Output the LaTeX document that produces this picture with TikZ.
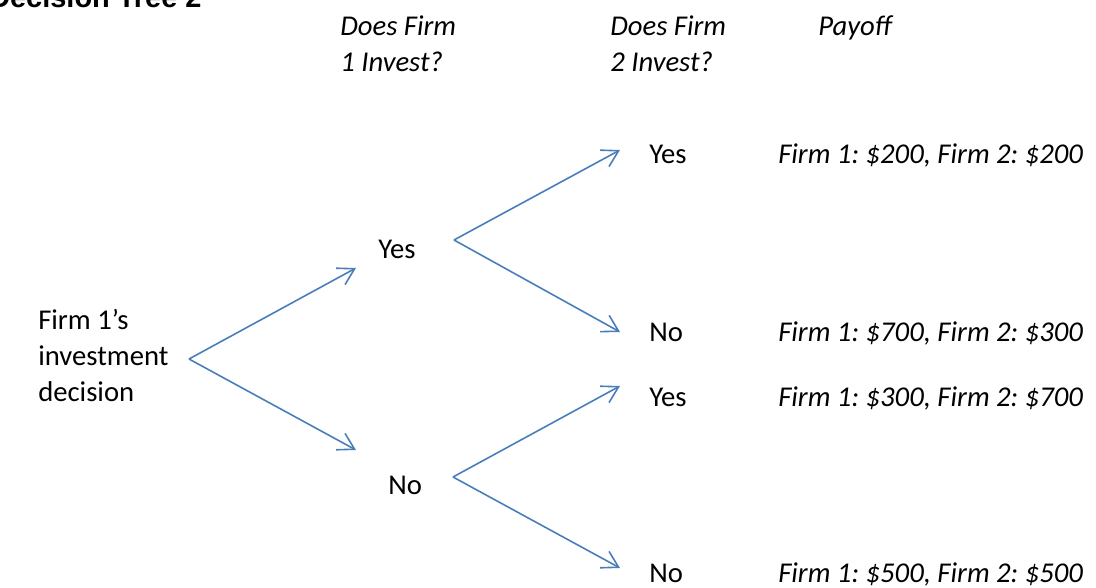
\documentclass[tikz,border=0pt]{standalone}
\usepackage{fontspec}
\setmainfont{Carlito}
\newfontfamily\titlefont{Liberation Sans}
\usetikzlibrary{arrows.meta}
\definecolor{arrowblue}{HTML}{4A7EBB}
\frenchspacing
\tikzset{
  txt/.style={anchor=base west, inner sep=0pt, font=\fontsize{21.5}{27}\selectfont},
  ital/.style={txt, font=\fontsize{21.5}{27}\selectfont\itshape},
  branch/.style={draw=arrowblue, line width=1.2pt, -{Straight Barb[length=12pt,width=14pt,line width=1.2pt]}},
}
\begin{document}
\begin{tikzpicture}[x=0.75pt,y=-0.75pt]
\useasboundingbox (0,0) rectangle (1096,588);
\clip (0,0) rectangle (1096,588);
% title
\node[anchor=base west, inner sep=0pt, font=\fontsize{21.7}{26}\selectfont\titlefont\bfseries] (title) at (-11,8) {Decision Tree 2};
% headers
\node[ital] (h1a) at (340,36) {Does Firm};
\node[ital] (h1b) at (340,72) {1 Invest?};
\node[ital] (h2a) at (610,36) {Does Firm};
\node[ital] (h2b) at (610,72) {2 Invest?};
\node[ital] (h3) at (818,36) {Payoff};
% root
\node[txt] (r1) at (38,329) {Firm 1’s};
\node[txt] (r2) at (38,365) {investment};
\node[txt] (r3) at (38,401) {decision};
% level 1
\node[txt] (y1) at (378,258) {Yes};
\node[txt] (n1) at (388,494) {No};
% level 2
\node[txt] (yy) at (649,164) {Yes};
\node[txt] (yn) at (649,341) {No};
\node[txt] (ny) at (649,406) {Yes};
\node[txt] (nn) at (649,582) {No};
% payoffs
\node[ital] (p1) at (778,164) {Firm 1: \$200, Firm 2: \$200};
\node[ital] (p2) at (778,341) {Firm 1: \$700, Firm 2: \$300};
\node[ital] (p3) at (778,406) {Firm 1: \$300, Firm 2: \$700};
\node[ital] (p4) at (778,582) {Firm 1: \$500, Firm 2: \$500};
% branch points
\coordinate (s0) at (189,359);
\coordinate (e0y) at (356,268);
\coordinate (e0n) at (356,450);
\coordinate (s1) at (454,240);
\coordinate (e1y) at (620,150);
\coordinate (e1n) at (620,332);
\coordinate (s2) at (453,477);
\coordinate (e2y) at (620,386);
\coordinate (e2n) at (620,568);
\draw[branch] (s0) -- (e0y);
\draw[branch] (s0) -- (e0n);
\draw[branch] (s1) -- (e1y);
\draw[branch] (s1) -- (e1n);
\draw[branch] (s2) -- (e2y);
\draw[branch] (s2) -- (e2n);
\end{tikzpicture}
\end{document}
